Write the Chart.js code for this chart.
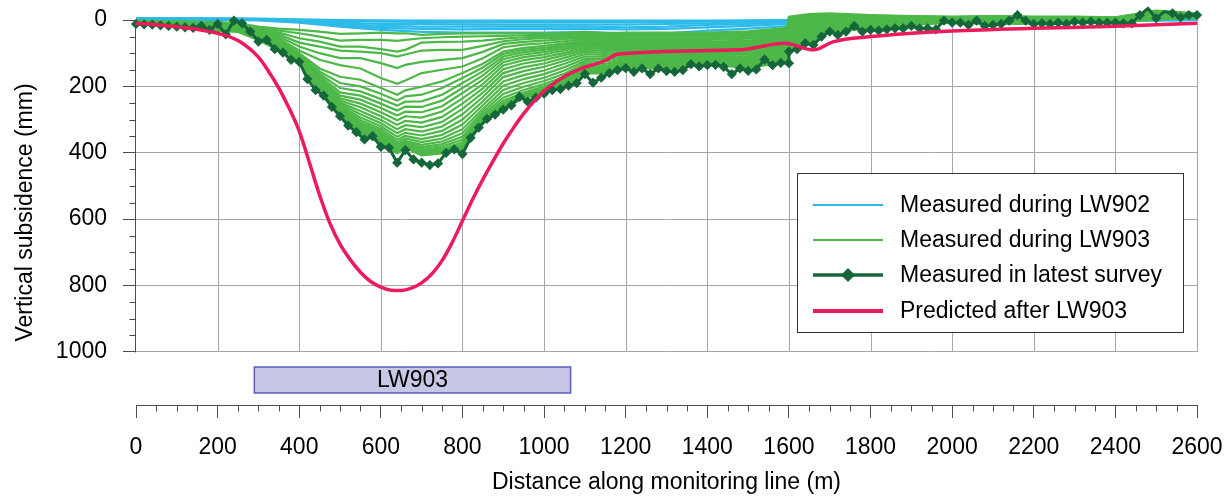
<!DOCTYPE html>
<html>
  <head>
    <script src="https://cdn.jsdelivr.net/npm/chart.js@4.4.0/dist/chart.umd.min.js"></script>
    <style>
      body { margin: 0; background: #fff; }
    </style>
  </head>
  <body>
    <canvas id="canvas" width="1229" height="496"></canvas>
    <script>
      // LW902 surveys, one array per survey
      const lw902Dist = [0, 200, 300, 400, 500, 600, 700, 800, 900, 1000, 1100, 1200, 1300, 1400, 1500, 1600, 1800, 2000, 2200, 2400, 2600];
      const lw902Surveys = [
        [-6, -5, -4, -2, 0, 1, 2, 2, 2, 2, 2, 2, 2, 2, 1, 0, 0, 0, 0, 0, 0],
        [-5, -4, -3, 0, 3, 5, 6, 7, 7, 7, 6, 7, 6, 5, 3, 1, 0, 0, 0, 0, 0],
        [-4, -3, -2, 2, 8, 12, 12, 13, 14, 14, 13, 14, 12, 10, 7, 4, 2, 1, 1, 1, 0],
        [-3, -2, -1, 4, 12, 18, 20, 20, 20, 20, 19, 22, 20, 15, 12, 8, 5, 3, 2, 2, 0],
        [-2, -1, 0, 6, 16, 24, 27, 28, 27, 27, 26, 28, 27, 22, 18, 12, 8, 5, 3, 2, 0],
        [-1, 0, 1, 8, 20, 30, 36, 38, 38, 38, 36, 40, 40, 32, 26, 18, 10, 6, 4, 3, 0],
      ];

      // LW903 surveys: one row per distance, one column per survey
      const lw903Dist = [0, 100, 200, 250, 300, 350, 400, 450, 500, 550, 600, 640, 660, 700, 750, 800, 850, 900, 950, 1000,
        1050, 1100, 1150, 1200, 1300, 1400, 1500, 1595, 1600, 1650, 1700, 1800, 1900, 2000, 2100, 2200, 2300, 2400, 2500, 2600];
      const lw903Sub = [
        [2, 2, 3, 3, 4, 4, 5, 5, 5, 6, 6, 6, 7, 7, 7, 8, 8, 8, 9, 9, 9, 10, 10, 11, 11, 12],
        [5, 5, 6, 6, 7, 7, 8, 8, 8, 9, 9, 10, 10, 11, 11, 12, 12, 13, 13, 14, 14, 15, 15, 16, 16, 17],
        [6, 7, 8, 9, 10, 11, 12, 13, 14, 15, 16, 17, 18, 19, 20, 21, 22, 23, 24, 25, 26, 27, 28, 30, 31, 33],
        [10, 11, 12, 13, 14, 15, 16, 17, 18, 19, 20, 21, 22, 23, 24, 25, 26, 27, 28, 29, 30, 31, 32, 33, 34, 36],
        [20, 23, 26, 29, 32, 34, 36, 38, 39, 40, 41, 42, 43, 44, 45, 46, 47, 48, 49, 50, 52, 54, 55, 57, 58, 60],
        [26, 32, 38, 44, 50, 56, 60, 63, 66, 69, 71, 73, 75, 77, 79, 81, 83, 84, 85, 86, 87, 88, 89, 90, 91, 92],
        [30, 40, 55, 68, 80, 92, 100, 104, 107, 109, 111, 112, 113, 114, 115, 116, 117, 118, 119, 120, 120, 121, 122, 122, 123, 124],
        [35, 50, 65, 80, 100, 120, 146, 155, 162, 168, 174, 179, 184, 188, 192, 195, 198, 201, 204, 206, 208, 210, 212, 214, 216, 218],
        [42, 62, 80, 92, 115, 136, 171, 190, 205, 218, 228, 236, 243, 249, 254, 259, 263, 267, 270, 273, 276, 278, 280, 282, 284, 286],
        [40, 60, 80, 95, 115, 146, 180, 200, 215, 228, 240, 252, 263, 274, 284, 294, 302, 309, 315, 320, 325, 330, 334, 338, 341, 344],
        [38, 60, 88, 100, 130, 175, 205, 222, 238, 252, 265, 278, 290, 301, 311, 320, 328, 335, 341, 347, 352, 356, 360, 364, 367, 370],
        [40, 63, 95, 110, 145, 192, 225, 243, 258, 273, 288, 302, 316, 329, 341, 352, 361, 369, 376, 382, 387, 391, 394, 397, 399, 401],
        [40, 60, 90, 104, 135, 182, 212, 230, 246, 261, 276, 290, 304, 317, 329, 340, 349, 357, 364, 369, 373, 376, 379, 381, 383, 385],
        [45, 55, 68, 92, 126, 160, 201, 225, 245, 262, 278, 294, 309, 323, 336, 348, 359, 368, 376, 383, 389, 394, 398, 402, 405, 408],
        [42, 52, 66, 90, 120, 150, 185, 205, 225, 243, 260, 276, 292, 307, 321, 334, 346, 357, 366, 374, 381, 387, 392, 396, 399, 402],
        [40, 50, 65, 90, 115, 140, 160, 175, 190, 205, 220, 236, 252, 268, 284, 300, 315, 329, 341, 352, 361, 369, 376, 382, 387, 392],
        [40, 49, 62, 78, 96, 115, 132, 143, 155, 167, 180, 193, 206, 219, 232, 245, 257, 268, 277, 285, 291, 296, 300, 303, 306, 308],
        [40, 48, 56, 64, 72, 82, 95, 102, 110, 118, 127, 137, 148, 160, 172, 185, 198, 211, 223, 234, 243, 250, 256, 260, 264, 267],
        [40, 46, 52, 58, 66, 74, 84, 90, 97, 104, 112, 121, 131, 142, 154, 166, 178, 190, 201, 211, 219, 225, 229, 232, 234, 236],
        [40, 45, 50, 55, 62, 70, 78, 84, 90, 97, 104, 112, 121, 131, 141, 152, 163, 174, 184, 193, 200, 205, 209, 212, 215, 218],
        [40, 44, 48, 53, 58, 64, 70, 75, 80, 86, 92, 99, 106, 114, 123, 132, 142, 152, 162, 171, 178, 184, 189, 193, 196, 199],
        [36, 40, 44, 48, 52, 57, 62, 66, 70, 74, 79, 84, 90, 96, 103, 110, 117, 124, 131, 137, 143, 148, 152, 155, 158, 160],
        [40, 44, 48, 52, 56, 61, 66, 70, 74, 78, 83, 88, 93, 99, 105, 111, 118, 125, 132, 138, 143, 148, 152, 156, 159, 162],
        [38, 42, 46, 50, 55, 60, 66, 70, 74, 78, 82, 86, 90, 95, 100, 105, 110, 115, 120, 125, 129, 133, 136, 139, 141, 143],
        [38, 42, 46, 50, 55, 60, 66, 70, 74, 78, 82, 86, 90, 95, 100, 105, 110, 115, 120, 125, 130, 134, 138, 142, 145, 148],
        [38, 42, 46, 50, 55, 60, 66, 70, 74, 78, 82, 86, 90, 94, 98, 102, 106, 110, 114, 118, 121, 124, 127, 129, 131, 133],
        [34, 38, 42, 46, 51, 56, 62, 66, 70, 74, 78, 82, 86, 90, 94, 99, 104, 109, 114, 119, 124, 129, 133, 137, 141, 145],
        [24, 28, 32, 36, 40, 45, 50, 54, 58, 62, 66, 70, 74, 78, 82, 86, 90, 94, 98, 102, 106, 110, 114, 118, 122, 125],
        [-10, -6, -2, 2, 6, 10, 14, 18, 22, 26, 30, 34, 38, 42, 46, 50, 54, 58, 62, 66, 70, 74, 78, 82, 86, 89],
        [-18, -14, -10, -6, -2, 2, 6, 10, 14, 18, 22, 26, 30, 34, 38, 42, 46, 50, 54, 57, 60, 63, 66, 68, 70, 72],
        [-20, -17, -14, -11, -8, -5, -2, 1, 4, 7, 10, 13, 15, 17, 19, 21, 23, 25, 27, 28, 29, 30, 31, 32, 33, 34],
        [-15, -13, -11, -9, -7, -5, -3, -1, 1, 3, 5, 6, 7, 8, 9, 10, 11, 12, 13, 14, 16, 18, 20, 22, 24, 26],
        [-12, -11, -10, -9, -8, -7, -6, -5, -4, -3, -2, -1, 0, 1, 2, 3, 4, 5, 6, 7, 8, 10, 12, 13, 14, 15],
        [-10, -9, -8, -7, -6, -5, -5, -4, -4, -3, -3, -2, -2, -1, -1, 0, 0, 1, 1, 2, 3, 4, 5, 6, 7, 7],
        [-12, -11, -10, -9, -8, -7, -6, -5, -4, -3, -2, -1, 0, 1, 2, 3, 4, 5, 6, 7, 8, 9, 10, 11, 12, 12],
        [-10, -9, -8, -7, -6, -5, -4, -3, -2, -1, 0, 1, 2, 3, 4, 5, 5, 6, 6, 7, 7, 8, 8, 9, 10, 11],
        [-10, -9, -8, -7, -6, -5, -4, -4, -3, -3, -2, -2, -1, -1, 0, 0, 1, 1, 2, 2, 3, 3, 3, 4, 4, 4],
        [-8, -7, -7, -6, -6, -5, -5, -4, -4, -3, -3, -2, -2, -1, -1, 0, 0, 1, 2, 3, 4, 5, 5, 6, 6, 7],
        [-28, -26, -24, -22, -20, -19, -18, -17, -16, -15, -14, -13, -12, -11, -10, -9, -8, -7, -6, -5, -5, -4, -4, -3, -3, -2],
        [-20, -19, -19, -18, -18, -17, -17, -16, -16, -15, -15, -14, -14, -13, -13, -12, -12, -11, -11, -10, -10, -9, -9, -8, -8, -7],
      ];

      // latest survey
      const latestDist = [0, 20, 40, 60, 80, 100, 120, 140, 160, 180, 200, 220, 240, 260, 280, 300, 320, 340, 360, 380,
        400, 420, 440, 460, 480, 500, 520, 540, 560, 580, 600, 620, 640, 660, 680, 700, 720, 740, 760, 780,
        800, 820, 840, 860, 880, 900, 920, 940, 960, 980, 1000, 1020, 1040, 1060, 1080, 1100, 1120, 1140, 1160, 1180,
        1200, 1220, 1240, 1260, 1280, 1300, 1320, 1340, 1360, 1380, 1400, 1420, 1440, 1460, 1480, 1500, 1520, 1540, 1560, 1580,
        1600, 1600, 1620, 1640, 1660, 1680, 1700, 1720, 1740, 1760, 1780, 1800, 1820, 1840, 1860, 1880, 1900, 1920, 1940, 1960, 1980,
        2000, 2020, 2040, 2060, 2080, 2100, 2120, 2140, 2160, 2180, 2200, 2220, 2240, 2260, 2280, 2300, 2320, 2340, 2360, 2380,
        2400, 2420, 2440, 2460, 2480, 2500, 2520, 2540, 2560, 2580, 2600];
      const latestSub = [12, 13, 14, 16, 18, 20, 22, 24, 18, 30, 12,
        43, 2, 10, 35, 65, 60, 88, 98, 120, 126,
        178, 211, 228, 262, 290, 318, 338, 360, 350, 382,
        385, 430, 392, 420, 430, 437, 432, 400, 390, 404,
        355, 324, 298, 285, 270, 257, 231, 246, 234, 222,
        211, 208, 198, 190, 163, 189, 174, 160, 151, 145,
        156, 146, 163, 146, 154, 156, 151, 133, 140, 136,
        135, 141, 163, 146, 153, 149, 119, 136, 129, 130,
        95, 88, 70, 75, 50, 35, 45, 35, 18, 35, 30,
        32, 28, 25, 25, 18, 25, 25, 28, 2, 8,
        8, 15, 2, 18, 15, 12, 2, -15, 2, 12,
        10, 12, 8, 12, 5, 8, 5, 8, 8, 8,
        10, 10, -15, -35, -5, -25, -20, -8, -15, -15];

      // prediction after LW903
      const predictedDist = [0, 50, 100, 150, 200, 250, 300, 325, 350, 375, 400, 425, 450, 475, 500, 525, 550, 575, 600, 625,
        650, 675, 700, 725, 750, 775, 800, 825, 850, 875, 900, 925, 950, 975, 1000, 1025, 1050, 1075, 1100, 1125,
        1150, 1180, 1480, 1590, 1660, 1710, 1800, 1900, 2000, 2200, 2400, 2600];
      const predictedSub = [10, 14, 20, 28, 40, 62, 112, 155, 205, 265, 335, 430, 528, 612, 675, 722, 760, 788, 805, 814,
        815, 808, 792, 765, 725, 670, 605, 540, 480, 425, 372, 325, 282, 245, 214, 190, 170, 155, 142, 133,
        122, 103, 90, 70, 90, 65, 50, 40, 33, 25, 19, 10];

      const yTicks = [0, 200, 400, 600, 800, 1000];
      const xTicks = [0, 200, 400, 600, 800, 1000, 1200, 1400, 1600, 1800, 2000, 2200, 2400, 2600];
      const panelLW903 = [290, 1065];
      const legendLabels = ['Measured during LW902', 'Measured during LW903', 'Measured in latest survey', 'Predicted after LW903'];

      const C = {
        lw902: '#2cbbe9',
        lw903: '#4db848',
        latest: '#15673a',
        predicted: '#ec1b5b',
        grid: '#a6a6a6',
        axis: '#4d4d4d',
      };
      const FONT = "'Liberation Sans', Arial, sans-serif";
      Chart.defaults.font.family = FONT;
      Chart.defaults.font.size = 23;
      Chart.defaults.color = '#000';

      const pts = (dist, sub) => dist.map((d, i) => ({ x: d, y: sub[i] }));
      const thin = (label, color, width, data) => ({
        label, data, borderColor: color, borderWidth: width, pointRadius: 0, clip: false,
      });

      const datasets = [
        {
          label: legendLabels[3], data: pts(predictedDist, predictedSub),
          borderColor: C.predicted, borderWidth: 3.5, pointRadius: 0,
          cubicInterpolationMode: 'monotone', clip: false,
        },
        {
          label: legendLabels[2], data: pts(latestDist, latestSub),
          borderColor: C.latest, backgroundColor: C.latest, borderWidth: 3,
          pointRadius: 3, pointStyle: 'rectRot', clip: false,
        },
      ];
      for (let k = 0; k < lw903Sub[0].length; k++) {
        datasets.push(thin(legendLabels[1], C.lw903, 2.2, pts(lw903Dist, lw903Sub.map((r) => r[k]))));
      }
      lw902Surveys.forEach((s) => datasets.push(thin(legendLabels[0], C.lw902, 2.2, pts(lw902Dist, s))));

      const decor = {
        id: 'decor',
        beforeDatasetsDraw(chart) {
          const { ctx, scales: { x, y } } = chart;
          const y0 = y.getPixelForValue(0);
          const y1 = y.getPixelForValue(1000);
          ctx.save();
          ctx.lineWidth = 1;
          ctx.strokeStyle = C.grid;
          ctx.beginPath();
          x.ticks.forEach((t) => {
            if (t.value === 0) return;
            const px = Math.round(x.getPixelForValue(t.value)) + 0.5;
            ctx.moveTo(px, y0);
            ctx.lineTo(px, y1);
          });
          ctx.stroke();

          // y axis line + minor ticks
          ctx.strokeStyle = C.axis;
          const ax = Math.round(x.left) - 0.5;
          ctx.beginPath();
          ctx.moveTo(ax, y0);
          ctx.lineTo(ax, y1 + 0.5);
          for (let v = 50; v < 1000; v += 50) {
            if (v % 200 === 0) continue;
            const py = Math.round(y.getPixelForValue(v)) + 0.5;
            ctx.moveTo(ax - 6, py);
            ctx.lineTo(ax, py);
          }
          // x minor ticks
          const by = Math.round(chart.chartArea.bottom) + 0.5;
          for (let v = 50; v < 2600; v += 50) {
            if (v % 200 === 0) continue;
            const px = Math.round(x.getPixelForValue(v)) + 0.5;
            ctx.moveTo(px, by);
            ctx.lineTo(px, by + 6);
          }
          ctx.stroke();
          ctx.restore();
        },
        afterDatasetsDraw(chart) {
          const { ctx, scales: { x } } = chart;
          ctx.save();
          // panel bar
          const p0 = x.getPixelForValue(panelLW903[0]);
          const p1 = x.getPixelForValue(panelLW903[1]);
          ctx.fillStyle = '#c9c7e6';
          ctx.strokeStyle = '#5c5fb6';
          ctx.lineWidth = 1.5;
          ctx.fillRect(p0, 367, p1 - p0, 26);
          ctx.strokeRect(p0, 367, p1 - p0, 26);
          ctx.fillStyle = '#000';
          ctx.font = '23px ' + FONT;
          ctx.textAlign = 'center';
          ctx.textBaseline = 'middle';
          ctx.fillText('LW903', (p0 + p1) / 2, 381);

          // legend
          ctx.fillStyle = '#fff';
          ctx.fillRect(797.5, 173.5, 386, 159);
          ctx.strokeStyle = '#333';
          ctx.lineWidth = 1;
          ctx.strokeRect(797.5, 173.5, 386, 159);
          const rows = [205, 240, 275, 311];
          const looks = [[C.lw902, 2], [C.lw903, 2], [C.latest, 3.5], [C.predicted, 4]];
          rows.forEach((ry, i) => {
            ctx.strokeStyle = looks[i][0];
            ctx.lineWidth = looks[i][1];
            ctx.beginPath();
            ctx.moveTo(813, ry);
            ctx.lineTo(883, ry);
            ctx.stroke();
            if (i === 2) {
              ctx.fillStyle = C.latest;
              ctx.beginPath();
              ctx.moveTo(848, ry - 7);
              ctx.lineTo(855, ry);
              ctx.lineTo(848, ry + 7);
              ctx.lineTo(841, ry);
              ctx.closePath();
              ctx.fill();
            }
            ctx.fillStyle = '#000';
            ctx.textAlign = 'left';
            ctx.fillText(legendLabels[i], 900, ry + 1);
          });
          ctx.restore();
        },
      };

      new Chart(document.getElementById('canvas').getContext('2d'), {
        type: 'line',
        data: { datasets },
        plugins: [decor],
        options: {
          responsive: false,
          animation: false,
          layout: { padding: { top: 20, right: 32, left: 0, bottom: 0 } },
          plugins: { legend: { display: false }, tooltip: { enabled: false } },
          scales: {
            x: {
              type: 'linear',
              min: 0,
              max: 2600,
              ticks: { padding: 16, maxRotation: 0, autoSkip: false, callback: (v) => String(v) },
              afterBuildTicks: (s) => { s.ticks = xTicks.map((v) => ({ value: v })); },
              grid: { drawOnChartArea: false, tickLength: 13, tickColor: C.axis },
              border: { display: true, color: C.axis },
              title: { display: true, text: 'Distance along monitoring line (m)', padding: { top: 0, bottom: 0 } },
              afterFit: (s) => { s.height = 91; s.paddingLeft = 0; s.paddingRight = 0; },
            },
            y: {
              type: 'linear',
              reverse: true,
              min: 0,
              max: 1160,
              ticks: { padding: 16, callback: (v) => String(v) },
              afterBuildTicks: (s) => { s.ticks = yTicks.map((v) => ({ value: v })); },
              grid: { color: C.grid, tickLength: 13, tickColor: C.axis },
              border: { display: false },
              title: { display: true, text: 'Vertical subsidence (mm)', padding: { top: 12, bottom: 0 } },
              afterFit: (s) => { s.width = 136; s.paddingTop = 0; s.paddingBottom = 0; },
            },
          },
        },
      });
    </script>
  </body>
</html>
